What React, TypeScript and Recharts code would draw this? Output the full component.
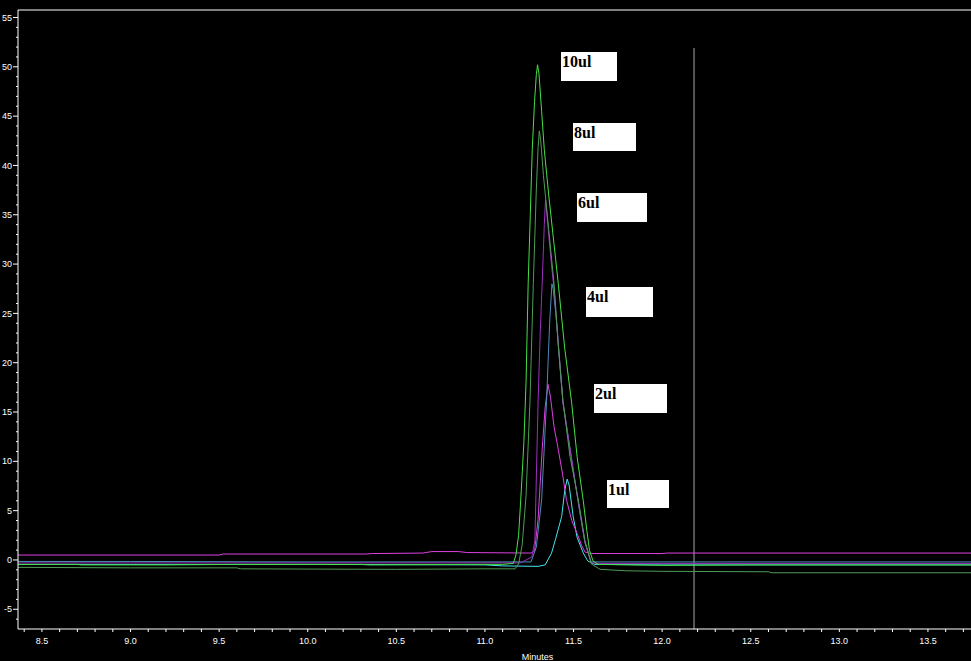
import React from "react";
import { LineChart, Line, XAxis, YAxis, ReferenceLine } from "recharts";

// chromatogram traces: [minutes, signal]
const TRACE_1UL: [number, number][] = [
  [8.365, -0.45], [10.0, -0.45], [11.0, -0.5], [11.1, -0.6], [11.3, -0.65], [11.34, -0.5],
  [11.376, 0.7], [11.4, 2.2], [11.433, 4.4], [11.45, 7], [11.464, 8.2], [11.475, 7.6],
  [11.498, 4.4], [11.52, 2.3], [11.555, 0.7], [11.58, -0.1], [11.62, -0.45], [12.0, -0.5],
  [13.743, -0.5],
];
const TRACE_2UL: [number, number][] = [
  [8.365, 0.5], [9.5, 0.5], [9.52, 0.6], [10.33, 0.6], [10.36, 0.65], [10.65, 0.7],
  [10.7, 0.85], [10.85, 0.85], [10.9, 0.75], [11.26, 0.7], [11.28, 0.9], [11.3, 4.1],
  [11.323, 11.2], [11.34, 15.5], [11.356, 17.8], [11.37, 16.5], [11.39, 13.5], [11.414, 11.2],
  [11.44, 8.5], [11.46, 6.1], [11.49, 4], [11.52, 2.7], [11.545, 1.5], [11.565, 0.8],
  [11.6, 0.65], [12.0, 0.65], [12.03, 0.7], [13.743, 0.7],
];
const TRACE_4UL: [number, number][] = [
  [8.365, -0.15], [9.0, -0.15], [10.0, -0.2], [11.26, -0.2], [11.29, 1.3], [11.32, 6.1],
  [11.348, 16.2], [11.365, 24], [11.378, 28], [11.385, 27.5], [11.4, 25], [11.44, 16],
  [11.527, 5.8], [11.564, 1.8], [11.6, -0.2], [13.743, -0.2],
];
const TRACE_6UL: [number, number][] = [
  [8.365, -0.3], [11.2, -0.3], [11.265, 0.3], [11.282, 2], [11.3, 16], [11.312, 23],
  [11.323, 28], [11.335, 34], [11.342, 36.5], [11.355, 34], [11.375, 30], [11.39, 27.5],
  [11.44, 16], [11.527, 5.8], [11.564, 1.8], [11.6, -0.3], [11.65, -0.35], [13.743, -0.35],
];
const TRACE_8UL: [number, number][] = [
  [8.365, -0.75], [9.0, -0.8], [9.6, -0.8], [9.62, -0.9], [10.5, -0.95], [11.0, -0.9],
  [11.17, -0.9], [11.19, -0.4], [11.21, 1.5], [11.232, 6.5], [11.254, 16], [11.273, 28],
  [11.29, 37.5], [11.3, 41.8], [11.307, 43.5], [11.315, 42.5], [11.33, 39], [11.36, 33.5],
  [11.39, 28], [11.415, 21.5], [11.44, 16.2], [11.48, 10.5], [11.527, 6.1], [11.564, 2],
  [11.6, -0.4], [11.65, -0.95], [11.8, -1.1], [12.0, -1.15], [12.6, -1.2], [12.62, -1.3],
  [13.743, -1.3],
];
const TRACE_10UL: [number, number][] = [
  [8.365, -0.45], [8.7, -0.45], [8.72, -0.5], [9.2, -0.5], [9.6, -0.45], [10.3, -0.45],
  [10.35, -0.5], [10.9, -0.45], [11.1, -0.45], [11.16, -0.35], [11.175, 0.5], [11.19, 2.5],
  [11.205, 7], [11.22, 12], [11.232, 18], [11.244, 28], [11.256, 35], [11.267, 41.6],
  [11.28, 46.5], [11.29, 49.2], [11.297, 50.2], [11.305, 49.3], [11.32, 45.5], [11.335, 41.6],
  [11.36, 37], [11.39, 32], [11.414, 28], [11.45, 21.5], [11.489, 16], [11.52, 10.5],
  [11.555, 6], [11.575, 3], [11.59, 1], [11.61, -0.1], [11.64, -0.45], [12.0, -0.55],
  [12.5, -0.5], [13.743, -0.5],
];

const LABELS = ["10ul", "8ul", "6ul", "4ul", "2ul", "1ul"];
const X_MAJOR = [8.5, 9.0, 9.5, 10.0, 10.5, 11.0, 11.5, 12.0, 12.5, 13.0, 13.5];
const Y_MAJOR = [-5, 0, 5, 10, 15, 20, 25, 30, 35, 40, 45, 50, 55];
const CURSOR_X = 12.18;

const X_DOMAIN: [number, number] = [8.365, 13.743];
const Y_DOMAIN: [number, number] = [-7, 55.76];
const CURSOR_TOP = 51.9;

const X_MINOR = Array.from({ length: 54 }, (_, i) => Math.round((8.4 + i * 0.1) * 10) / 10);
const Y_MINOR = Array.from({ length: 62 }, (_, i) => i - 6);

const toRows = (pts: [number, number][]) => pts.map(([t, v]) => ({ t, v }));

const SERIES = [
  { name: "1ul", data: toRows(TRACE_1UL), color: "#44e4ec" },
  { name: "2ul", data: toRows(TRACE_2UL), color: "#e040e4" },
  { name: "4ul", data: toRows(TRACE_4UL), color: "#4a8cb8" },
  { name: "6ul", data: toRows(TRACE_6UL), color: "#9c30bc" },
  { name: "8ul", data: toRows(TRACE_8UL), color: "#4f9c55" },
  { name: "10ul", data: toRows(TRACE_10UL), color: "#46e046" },
];

// white boxes pasted over the plot
const LABEL_BOXES = [
  { left: 561, top: 52, width: 56, height: 29 },
  { left: 573, top: 123, width: 63, height: 28 },
  { left: 577, top: 193, width: 70, height: 29 },
  { left: 586, top: 287, width: 67, height: 30 },
  { left: 594, top: 384, width: 73, height: 29 },
  { left: 607, top: 480, width: 62, height: 28 },
];

const AXIS_FONT = "'Liberation Sans', Arial, sans-serif";

const XTick = (props: any) => {
  const { x, y, payload } = props;
  const v = payload.value as number;
  const major = X_MAJOR.some((m) => Math.abs(m - v) < 1e-6);
  return (
    <g>
      <line x1={x} x2={x} y1={y} y2={y + 3} stroke="#fff" />
      {major && (
        <text x={x} y={y + 12} dy="0.35em" textAnchor="middle" fill="#fff" fontSize={9} fontFamily={AXIS_FONT}>
          {v.toFixed(1)}
        </text>
      )}
    </g>
  );
};

const YTick = (props: any) => {
  const { x, y, payload } = props;
  const v = payload.value as number;
  const major = Y_MAJOR.includes(v);
  return (
    <g>
      <line x1={x - (major ? 5 : 2)} x2={x} y1={y} y2={y} stroke="#fff" />
      {major && (
        <text x={x - 6} y={y} dy="0.35em" textAnchor="end" fill="#fff" fontSize={9} fontFamily={AXIS_FONT}>
          {v}
        </text>
      )}
    </g>
  );
};

export default function App() {
  return (
    <div
      style={{
        position: "fixed",
        left: 0,
        top: 0,
        width: 971,
        height: 661,
        background: "#000",
        overflow: "hidden",
      }}
    >
      <LineChart width={971} height={661} margin={{ top: 10, right: 0, bottom: 0, left: 0 }}>
        <XAxis
          dataKey="t"
          type="number"
          domain={X_DOMAIN}
          allowDataOverflow
          ticks={X_MINOR}
          interval={0}
          tick={XTick}
          tickLine={false}
          tickSize={0}
          tickMargin={0}
          height={32}
          axisLine={{ stroke: "#fff" }}
          label={{
            value: "Minutes",
            position: "insideBottom",
            offset: 1,
            dx: 43,
            fill: "#fff",
            fontSize: 9,
            fontFamily: AXIS_FONT,
          }}
        />
        <YAxis
          type="number"
          domain={Y_DOMAIN}
          allowDataOverflow
          ticks={Y_MINOR}
          interval={0}
          tick={YTick}
          tickLine={false}
          tickSize={0}
          tickMargin={0}
          width={18}
          axisLine={{ stroke: "#fff" }}
        />
        <ReferenceLine y={Y_DOMAIN[1]} stroke="#fff" />
        <ReferenceLine
          segment={[
            { x: CURSOR_X, y: CURSOR_TOP },
            { x: CURSOR_X, y: Y_DOMAIN[0] },
          ]}
          stroke="#a8a8a8"
        />
        {SERIES.map((s) => (
          <Line
            key={s.name}
            data={s.data}
            dataKey="v"
            name={s.name}
            type="linear"
            stroke={s.color}
            strokeWidth={1}
            dot={false}
            activeDot={false}
            isAnimationActive={false}
          />
        ))}
      </LineChart>
      {LABELS.map((label, i) => (
        <div
          key={label}
          style={{
            position: "absolute",
            ...LABEL_BOXES[i],
            background: "#fff",
            color: "#000",
            fontFamily: "'Liberation Serif', 'Times New Roman', serif",
            fontWeight: "bold",
            fontSize: 16,
            lineHeight: "16px",
            paddingTop: 2,
            paddingLeft: 1,
            boxSizing: "border-box",
          }}
        >
          {label}
        </div>
      ))}
    </div>
  );
}
